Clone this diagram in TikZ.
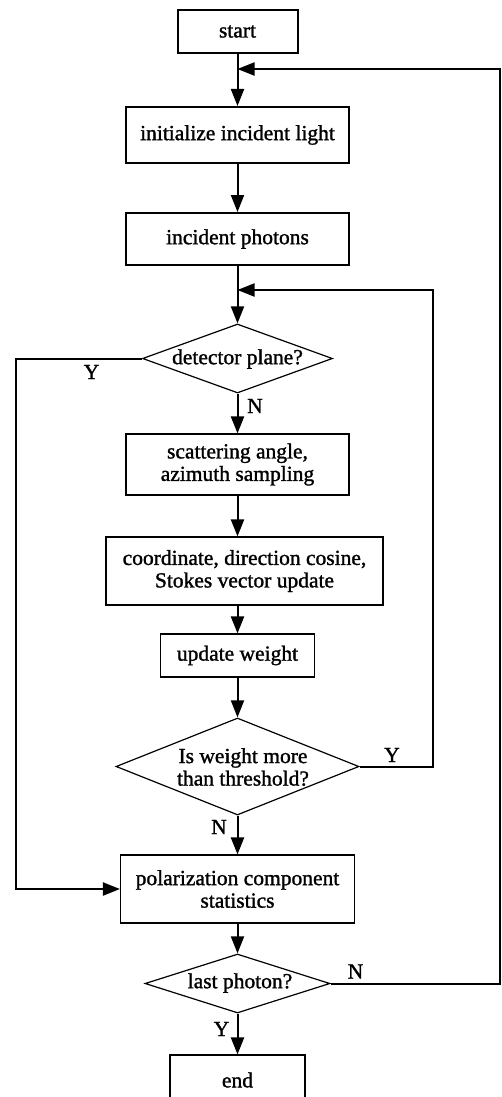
\documentclass[tikz,border=0pt]{standalone}
\usepackage{fontspec}
\setmainfont{Liberation Serif}[FakeBold=1.3]
\usetikzlibrary{arrows.meta,shapes.geometric}
\begin{document}
\begin{tikzpicture}[x=1pt,y=-1pt,
  fnt/.style={font=\fontsize{21.5}{22.5}\selectfont},
  thickbox/.style={draw, line width=2pt, inner sep=0pt, fnt, align=center},
  thinbox/.style={draw, line width=1.1pt, inner sep=0pt, fnt, align=center},
  dia/.style={draw, diamond, line width=1.2pt, inner sep=0pt},
  txt/.style={fnt, align=center, inner sep=0pt},
  lab/.style={fnt, inner sep=0pt},
  conn/.style={line width=2pt},
  arr/.style={conn, -{Triangle[length=17pt,width=13pt]}},
]
\useasboundingbox (0,0) rectangle (501,1097);
\clip (0,0) rectangle (501,1097);
% boxes
\node[thickbox, minimum width=120pt, minimum height=43pt] (start) at (237.5,31.5) {start};
\node[thickbox, minimum width=223pt, minimum height=56pt] (init) at (237.5,135) {initialize incident light};
\node[thickbox, minimum width=223pt, minimum height=52pt] (phot) at (237.5,239) {incident photons};
\node[dia, minimum width=190pt, minimum height=69pt] (det) at (237.5,358.5) {};
\node[txt] (dett) at (237.5,359) {detector plane?};
\node[thinbox, minimum width=223pt, minimum height=61pt] (scat) at (237.5,464.5) {scattering angle,\\azimuth sampling};
\node[thinbox, minimum width=277pt, minimum height=68pt] (coord) at (244.5,571) {coordinate, direction cosine,\\Stokes vector update};
\node[thinbox, minimum width=154pt, minimum height=43pt] (upd) at (237.5,655.5) {update weight};
\node[dia, minimum width=243pt, minimum height=97pt] (thr) at (237.5,766.5) {};
\node[txt] (thrt) at (243,767) {Is weight more\\than threshold?};
\node[thinbox, minimum width=234pt, minimum height=68pt] (pol) at (237.5,889) {polarization component\\statistics};
\node[dia, minimum width=185pt, minimum height=59pt] (last) at (237.5,983.5) {};
\node[txt] (lastt) at (240,983) {last photon?};
\node[thinbox, minimum width=135pt, minimum height=50pt] (end) at (237.5,1080) {end};
% junctions and corners
\coordinate (j1) at (237.5,69);
\coordinate (j2) at (237.5,290);
\coordinate (r1) at (500,69);
\coordinate (r2) at (433,290);
\coordinate (l1) at (16,358.5);
% main flow
\draw[arr] (start) -- (init);
\draw[arr] (init) -- (phot);
\draw[arr] (phot) -- (det);
\draw[arr] (det) -- (scat);
\draw[arr] (scat.south) -- (scat.south |- coord.north);
\draw[arr] (upd.north |- coord.south) -- (upd.north);
\draw[arr] (upd) -- (thr);
\draw[arr] (thr) -- (pol);
\draw[arr] (pol) -- (last);
\draw[arr] (last) -- (end);
% loops
\draw[arr] (last.east) -| (r1) -- (j1);
\draw[arr] (thr.east) -| (r2) -- (j2);
\draw[arr] (det.west) -- (l1) |- (pol.west);
% labels
\node[lab] (y1) at (91.5,372) {Y};
\node[lab] (n1) at (255,406) {N};
\node[lab] (n2) at (219,827) {N};
\node[lab] (y2) at (392,755) {Y};
\node[lab] (n3) at (355.5,971.5) {N};
\node[lab] (y3) at (221.5,1029) {Y};
\end{tikzpicture}
\end{document}
